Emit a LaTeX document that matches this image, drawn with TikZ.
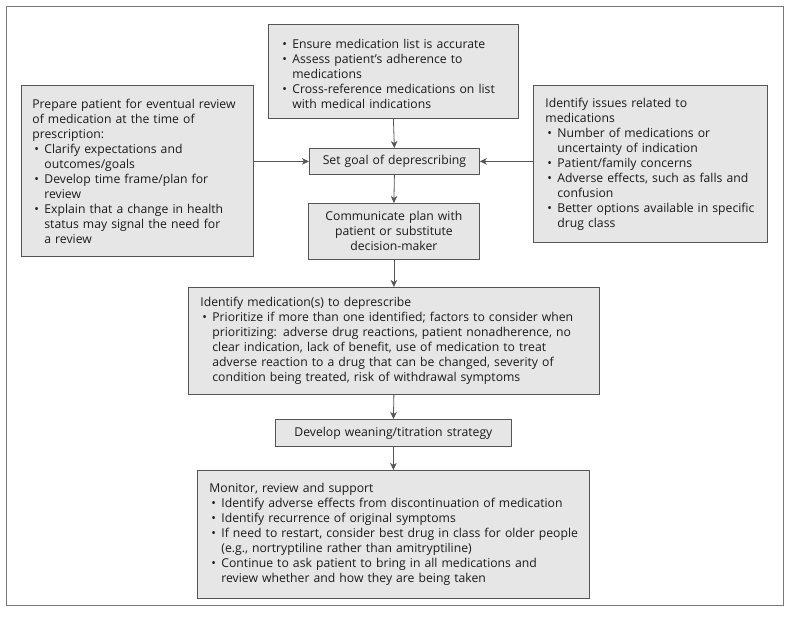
\documentclass[tikz,border=0pt]{standalone}
\usepackage{fontspec}
\setmainfont{Open Sans}
\usetikzlibrary{arrows.meta}
\definecolor{boxfill}{HTML}{E6E6E6}
\definecolor{boxline}{HTML}{555555}
\definecolor{txt}{HTML}{1A1A1A}
\definecolor{frame}{HTML}{777777}
\newcommand\itm{\par\noindent\hangindent=12pt\hangafter=1\makebox[12pt][l]{\hspace{2pt}\textbullet}}
\newcommand\nl{\newline}
\newcommand\boxfont{\fontsize{12.2pt}{15pt}\selectfont}
\newcommand\lsk{\boxfont\leftskip=8pt\relax}
\tikzset{
  box/.style={draw=boxline, fill=boxfill, line width=0.8pt, inner xsep=4pt, inner ysep=0pt,
    anchor=north west, align=left, text=txt, font={\boxfont}},
  cbox/.style={draw=boxline, fill=boxfill, line width=0.8pt, inner xsep=4pt, inner ysep=0pt,
    anchor=north west, align=center, text=txt, font={\boxfont}},
  conn/.style={draw=boxline, line width=0.8pt, -{Stealth[length=7pt,width=6.5pt,inset=2pt]}}
}
\begin{document}
\begin{tikzpicture}[x=1pt,y=-1pt]
\useasboundingbox (0,0) rectangle (790,620);
\draw[frame, line width=0.8pt] (6,6) rectangle (783,605);

\node[box, minimum width=250pt, minimum height=94pt, text width=242pt] (top) at (268,24) {\lsk
\itm Ensure medication list is accurate
\itm Assess patient’s adherence to\nl medications
\itm Cross-reference medications on list\nl with medical indications\par};

\node[box, minimum width=232pt, minimum height=171pt, text width=224pt] (left) at (21,85) {\boxfont\leftskip=7pt\relax
Prepare patient for eventual review\nl of medication at the time of\nl prescription:
\itm Clarify expectations and\nl outcomes/goals
\itm Develop time frame/plan for\nl review
\itm Explain that a change in health\nl status may signal the need for\nl a review\par};

\node[box, minimum width=234pt, minimum height=157pt, text width=226pt] (right) at (533,85) {\lsk
Identify issues related to\nl medications
\itm Number of medications or\nl uncertainty of indication
\itm Patient/family concerns
\itm Adverse effects, such as falls and\nl confusion
\itm Better options available in specific\nl drug class\par};

\node[cbox, minimum width=170pt, minimum height=26pt, text width=162pt] (goal) at (309,148) {\boxfont Set goal of deprescribing};

\node[cbox, minimum width=171pt, minimum height=56pt, text width=163pt] (comm) at (308,203) {\boxfont Communicate plan with\\ patient or substitute\\ decision-maker};

\node[box, minimum width=411pt, minimum height=107pt, text width=403pt] (ident) at (188,287) {\lsk
Identify medication(s) to deprescribe
\itm Prioritize if more than one identified; factors to consider when\nl prioritizing: adverse drug reactions, patient nonadherence, no\nl clear indication, lack of benefit, use of medication to treat\nl adverse reaction to a drug that can be changed, severity of\nl condition being treated, risk of withdrawal symptoms\par};

\node[cbox, minimum width=236pt, minimum height=27pt, text width=228pt] (dev) at (275,419) {\boxfont Develop weaning/titration strategy};

\node[box, minimum width=392pt, minimum height=128pt, text width=384pt] (mon) at (197,470) {\lsk
Monitor, review and support
\itm Identify adverse effects from discontinuation of medication
\itm Identify recurrence of original symptoms
\itm If need to restart, consider best drug in class for older people\nl (e.g., nortryptiline rather than amitryptiline)
\itm Continue to ask patient to bring in all medications and\nl review whether and how they are being taken\par};

\draw[conn] (top.south) -- (goal.north);
\draw[conn] (goal.west -| left.east) -- (goal.west);
\draw[conn] (goal.east -| right.west) -- (goal.east);
\draw[conn] (goal.south) -- (comm.north);
\draw[conn] (comm.south) -- (ident.north);
\draw[conn] (ident.south) -- (dev.north);
\draw[conn] (dev.south) -- (mon.north);
\end{tikzpicture}
\end{document}
